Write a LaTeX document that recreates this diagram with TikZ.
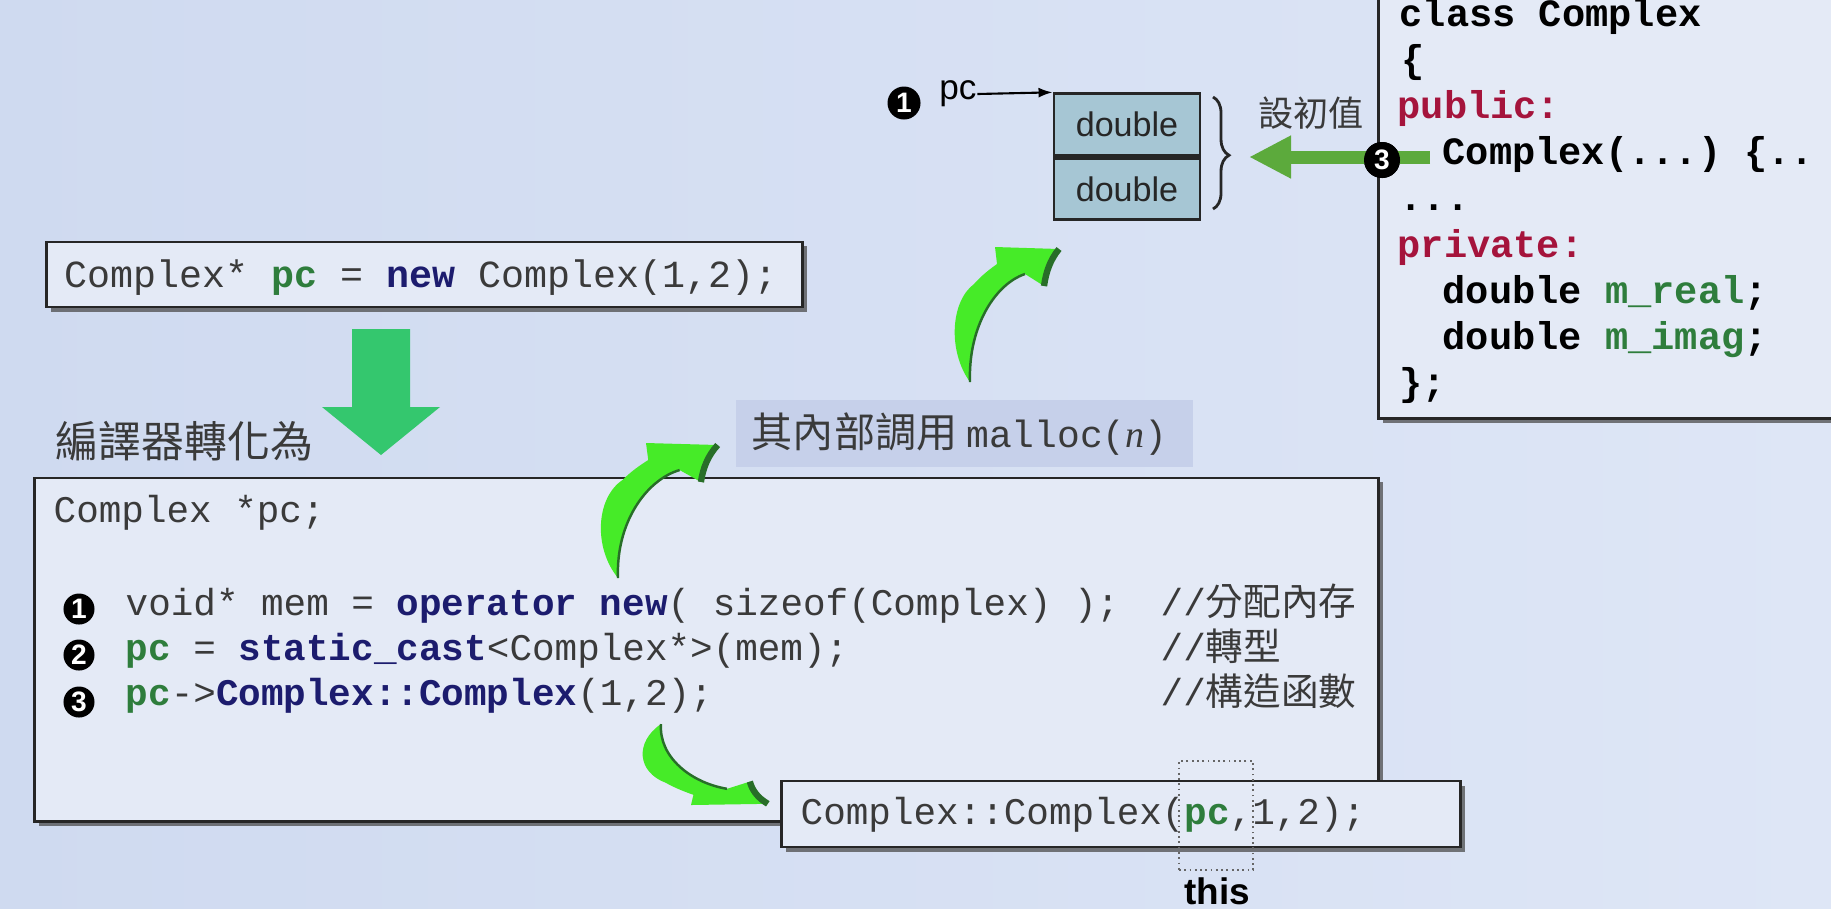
\documentclass[tikz,border=0pt]{standalone}
\usepackage{fontspec}
\setmainfont{Liberation Serif}
\setsansfont{Liberation Sans}
\setmonofont{Liberation Mono}
\newfontfamily\cjk{Noto Sans CJK TC}
\usetikzlibrary{positioning,shadows,decorations.pathreplacing,arrows.meta}

\definecolor{pageleft}{RGB}{207,218,240}
\definecolor{pageright}{RGB}{222,230,246}
\definecolor{boxbg}{RGB}{228,234,246}
\definecolor{mallocbg}{RGB}{198,208,234}
\definecolor{cellbg}{RGB}{166,198,212}
\definecolor{codegray}{RGB}{58,58,58}
\definecolor{kwnavy}{RGB}{28,28,110}
\definecolor{vargreen}{RGB}{46,125,60}
\definecolor{kwred}{RGB}{165,20,60}
\definecolor{swooshgreen}{RGB}{70,235,40}
\definecolor{swooshedge}{RGB}{40,110,40}
\definecolor{downgreen}{RGB}{52,199,110}
\definecolor{leftgreen}{RGB}{92,170,60}

\newcommand{\kw}[1]{\textcolor{kwnavy}{\bfseries #1}}
\newcommand{\pv}[1]{\textcolor{vargreen}{\bfseries #1}}
\newcommand{\acc}[1]{\textcolor{kwred}{#1}}

\tikzset{
  codebox/.style={draw=black!85, line width=0.8pt, fill=boxbg, inner sep=0pt,
    drop shadow={shadow xshift=0.045cm, shadow yshift=-0.045cm, fill=black!70, opacity=0.75}},
  codeline/.style={anchor=base west, inner sep=0pt, text=codegray,
    font=\ttfamily\fontsize{10.7}{12}\selectfont},
  classline/.style={anchor=base west, inner sep=0pt, text=black,
    font=\ttfamily\bfseries\fontsize{11}{12}\selectfont},
  num/.style={circle, fill=black, text=white, inner sep=0pt, minimum size=0.31cm,
    font=\sffamily\bfseries\fontsize{8}{8}\selectfont},
  cell/.style={draw=black!85, line width=0.8pt, fill=cellbg, minimum width=1.46cm,
    minimum height=0.615cm, inner sep=0pt, text=black!85,
    font=\sffamily\fontsize{9.7}{10}\selectfont},
  swoosh/.pic={
    \fill[swooshgreen] (0,0) .. controls (-22,-30) and (-20,-80) .. (4,-98)
      .. controls (12,-107) and (20,-113) .. (27,-118) -- (25,-135) -- (89,-133)
      .. controls (80,-122) and (76,-110) .. (74,-96) -- (55,-108)
      .. controls (25,-98) and (-2,-55) .. (0,0) -- cycle;
    \draw[swooshedge, line width=0.7pt] (55,-108) .. controls (25,-98) and (-2,-55) .. (0,0);
    \draw[swooshedge, line width=1.8pt] (89,-133) .. controls (80,-122) and (76,-110) .. (74,-96);
  }
}

\begin{document}
\begin{tikzpicture}[x=0.01cm, y=-0.01cm]
  \useasboundingbox (0,0) rectangle (1831,908);
  \clip (0,0) rectangle (1831,908);
  \shade[left color=pageleft, right color=pageright] (0,0) rectangle (1831,908);

  % class on the right
  \node[codebox, minimum width=4.81cm, minimum height=4.38cm] (classbox) at (1619.5,199) {};
  \node[classline] (cl1) at (1399,26) {class Complex};
  \node[classline] (cl2) at (1401,72) {\{};
  \node[classline] (cl3) at (1397,118) {\acc{public:}};
  \node[classline] (cl4) at (1442,164) {Complex(...) \{..};
  \node[classline] (cl5) at (1399,210) {...};
  \node[classline] (cl6) at (1397,257) {\acc{private:}};
  \node[classline] (cl7) at (1442,303) {double \textcolor{vargreen}{m\_real};};
  \node[classline] (cl8) at (1442,349) {double \textcolor{vargreen}{m\_imag};};
  \node[classline] (cl9) at (1399,395) {\};};

  % memory block
  \node[cell] (cellA) at (1127,124.5) {double};
  \node[cell, below=0pt of cellA] (cellB) {double};
  \node[num, minimum size=0.33cm] (c1) at (904,103) {1};
  \node[inner sep=0pt, font=\sffamily\fontsize{10}{10}\selectfont] (pcl) at (958,94) {pc};
  \draw[line width=0.6pt, -{Latex[length=0.14cm, width=0.1cm]}] (pcl.east) -- (cellA.north west);
  \draw[line width=0.8pt, black!85, decorate, decoration={brace, amplitude=0.16cm, aspect=0.52}]
    (1213,97) -- (1213,209);
  \node[font=\cjk\fontsize{10}{10}\selectfont, text=codegray] (init) at (1311,113) {設初值};
  \coordinate (bracetip) at (1249,157);
  \node[num, minimum size=0.36cm] (c3) at (1382,160) {3};
  \draw[leftgreen, line width=0.13cm, -{Triangle[length=0.42cm, width=0.4cm]}]
    (1430,157) -- (bracetip);
  \node[num, minimum size=0.36cm] at (c3) {3};

  % source line
  \node[codebox, minimum width=7.55cm, minimum height=0.65cm] (topcode) at (424.5,274.5) {};
  \node[codeline, font=\ttfamily\fontsize{10.9}{12}\selectfont] (src) at (64,287)
    {Complex* \pv{pc} = \kw{new} Complex(1,2);};

  % big down arrow
  \fill[downgreen] (352,329) -- (410,329) -- (410,407) -- (440,407) -- (381,455)
    -- (322,407) -- (352,407) -- cycle;
  \node[anchor=west, inner sep=0pt, text=codegray, font=\cjk\fontsize{12.2}{13}\selectfont]
    (turn) at (55,441) {編譯器轉化為};

  % what the compiler does
  \node[codebox, minimum width=13.43cm, minimum height=3.43cm] (bigbox) at (706.5,649.5) {};
  \node[codeline] (decl) at (53,522) {Complex *pc;};
  \node[num] (n1) at (79,609) {1};
  \node[num] (n2) at (79,655) {2};
  \node[num] (n3) at (79,702) {3};
  \node[codeline] (s1) at (125,615) {void* mem = \kw{operator new}( sizeof(Complex) );};
  \node[codeline] (s2) at (125,660) {\pv{pc} = \kw{static\_cast}<Complex*>(mem);};
  \node[codeline] (s3) at (125,705) {\pv{pc}->\kw{Complex::Complex}(1,2);};
  \node[codeline] (m1) at (1160,615) {//{\cjk 分配內存}};
  \node[codeline] (m2) at (1160,660) {//{\cjk 轉型}};
  \node[codeline] (m3) at (1160,705) {//{\cjk 構造函數}};

  % malloc note
  \node[fill=mallocbg, minimum width=4.57cm, minimum height=0.67cm, inner sep=0pt]
    (mallocbox) at (964.5,433.5) {};
  \node[anchor=west, inner sep=0pt, text=codegray] (mallocl) at (751,434)
    {{\cjk\fontsize{11.7}{12}\selectfont 其內部調用} {\ttfamily\fontsize{10.8}{12}\selectfont malloc(}{\itshape\fontsize{10.8}{12}\selectfont n}{\ttfamily\fontsize{10.8}{12}\selectfont )}};

  % curved arrows
  \pic[xscale=1.12] at (618,578) {swoosh};
  \pic at (970,382) {swoosh};
  \pic[xscale=1.2, yscale=-0.6] at (661,724) {swoosh};

  % the call with this
  \node[codebox, minimum width=6.78cm, minimum height=0.66cm] (callbox) at (1121,814) {};
  \node[codeline] (call) at (800,824) {Complex::Complex(\pv{pc},1,2);};
  \node[draw=black!60, densely dotted, line width=0.5pt, minimum width=0.74cm,
    minimum height=1.09cm, inner sep=0pt] (thisbox) at (1216,815.5) {};
  \node[anchor=base, inner sep=0pt, font=\sffamily\bfseries\fontsize{10.5}{11}\selectfont]
    (thisl) at (1217,904) {this};
\end{tikzpicture}
\end{document}
